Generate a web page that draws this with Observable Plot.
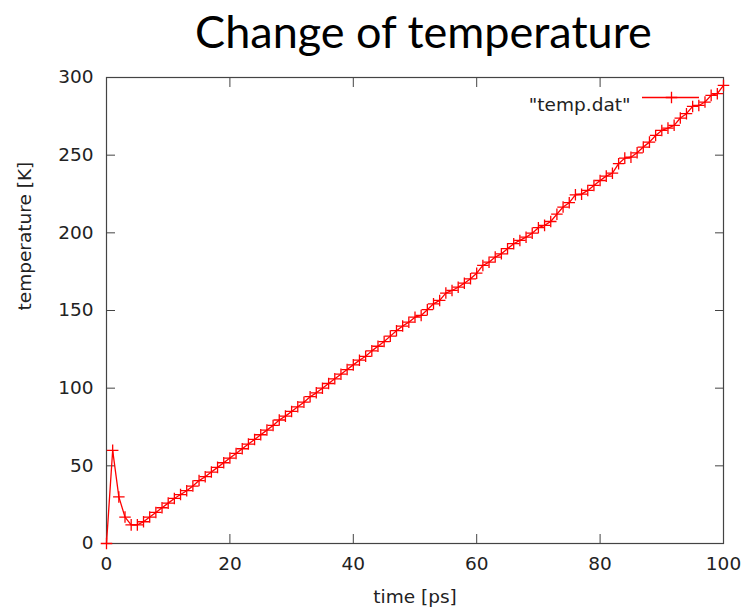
<!DOCTYPE html>
<html><head><meta charset="utf-8">
<script src="https://cdn.jsdelivr.net/npm/d3@7"></script>
<script src="https://cdn.jsdelivr.net/npm/@observablehq/plot@0.6"></script>
<style>
body{margin:0;background:#fff;}
#title{height:62px;box-sizing:border-box;padding-left:102px;padding-top:4px;text-align:center;font-family:Lato,sans-serif;font-size:45px;line-height:54px;color:#000;}
</style></head><body>
<div id="title">Change of temperature</div>
<div id="chart"></div>
<script>
const times = [0,1,2,3,4,5,6,7,8,9,10,11,12,13,14,15,16,17,18,19,20,21,22,23,24,25,26,27,28,29,30,31,32,33,34,35,36,37,38,39,40,41,42,43,44,45,46,47,48,49,50,51,52,53,54,55,56,57,58,59,60,61,62,63,64,65,66,67,68,69,70,71,72,73,74,75,76,77,78,79,80,81,82,83,84,85,86,87,88,89,90,91,92,93,94,95,96,97,98,99,100];
const temps = [0,60,30,17,12,12,14,17,20,23,
  26,29,31.5,34,37,40.5,43,46,49,52,
  55,58,61,64,67,70,73,76,79.5,82,
  85,88,91,94.5,97,100,103,106,109,112,
  115,118,120.5,124,127,130,133.5,137,140,142.5,
  145.7,146.8,150.5,154.3,156.5,161.2,162.9,165,167.6,170.4,
  174,179,181.1,184.4,186.5,189.8,193,195.1,197.2,199.8,
  203.3,204.8,207.3,212,216.6,219.4,224.5,224.9,227.3,230.5,
  233.7,236.5,238.4,244.5,248.1,248.7,251.5,255.2,258.4,262.7,
  265.9,267.4,269.2,273.9,276.7,281.4,282,284.2,288.5,289.6,
  294.9];
const xTicks = [0,20,40,60,80,100];
const yTicks = [0,50,100,150,200,250,300];
const xDomain = [0,100];
const yDomain = [0,300];
const xLabel = "time [ps]";
const yLabel = "temperature [K]";
const seriesName = "\"temp.dat\"";
const seriesColor = "#ff0000";

const data = times.map((t,i) => ({t, temp: temps[i]}));

const chart = Plot.plot({
  width: 745, height: 548,
  marginLeft: 106, marginRight: 22, marginTop: 15, marginBottom: 67,
  style: {fontFamily: "'DejaVu Sans', sans-serif", fontSize: "18.5px", color: "#222", background: "#fff", overflow: "visible"},
  x: {domain: xDomain},
  y: {domain: yDomain},
  marks: [
    Plot.frame({stroke: "#444", strokeWidth: 1.2}),
    Plot.axisX({ticks: xTicks, tickSize: -9, tickPadding: 22, label: null, stroke: "#444", fill: "#222"}),
    Plot.axisX({anchor: "top", ticks: xTicks, tickSize: -9, tickFormat: () => "", label: null, stroke: "#444"}),
    Plot.axisY({ticks: yTicks, tickSize: -9, tickPadding: 22, label: null, stroke: "#444", fill: "#222"}),
    Plot.axisY({anchor: "right", ticks: yTicks, tickSize: -9, tickFormat: () => "", label: null, stroke: "#444"}),
    Plot.line(data, {x: "t", y: "temp", stroke: seriesColor, strokeWidth: 1.3}),
    Plot.dot(data, {x: "t", y: "temp", symbol: "plus", stroke: seriesColor, r: 3.8, strokeWidth: 1.3}),
    Plot.text([yLabel], {x: null, y: null, text: d => d, frameAnchor: "left", dx: -81, rotate: -90, fill: "#222"}),
    Plot.text([xLabel], {x: null, y: null, text: d => d, frameAnchor: "bottom", dy: 59, fill: "#222"}),
    Plot.text([seriesName], {x: null, y: null, text: d => d, frameAnchor: "top-right", dx: -93, dy: 20, textAnchor: "end", fill: "#222"}),
    Plot.ruleY([yDomain[1]], {insetLeft: 536, insetRight: 24, dy: 20, stroke: seriesColor, strokeWidth: 1.3}),
    Plot.dot([seriesName], {x: null, y: null, frameAnchor: "top-right", dx: -52, dy: 20, symbol: "plus", stroke: seriesColor, r: 3.8, strokeWidth: 1.3})
  ]
});
document.getElementById("chart").appendChild(chart);
</script>
</body></html>
